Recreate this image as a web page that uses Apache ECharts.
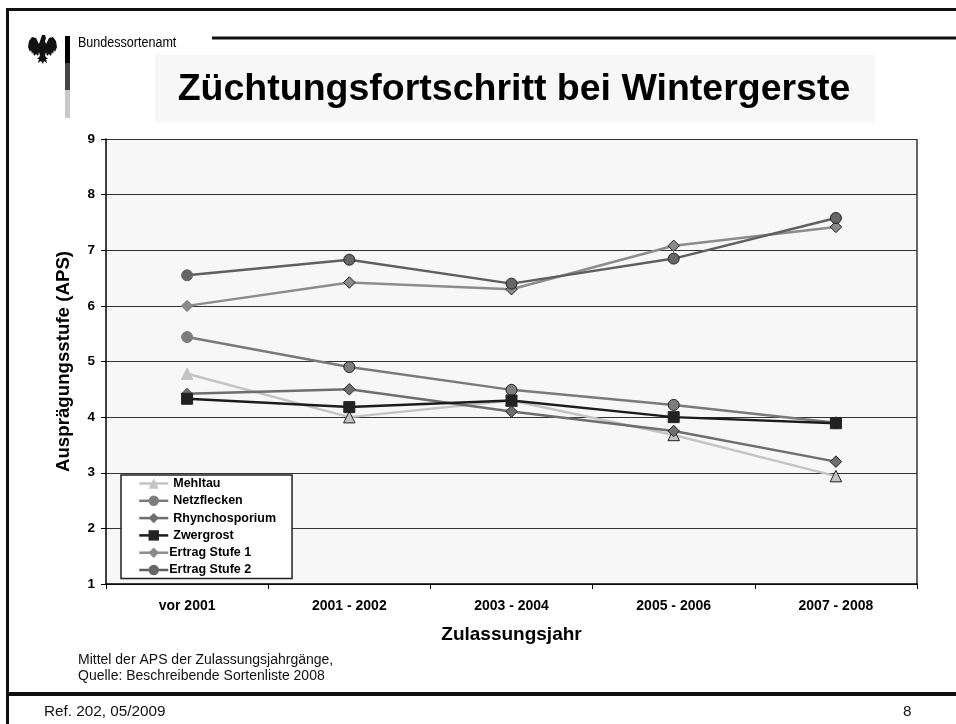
<!DOCTYPE html>
<html><head><meta charset="utf-8">
<style>html,body{margin:0;padding:0;background:#fff}#c{width:956px;height:724px}</style>
<script src="https://cdn.jsdelivr.net/npm/echarts@6/dist/echarts.min.js"></script>
</head><body><div id="c"></div>
<script>
const categories = ['vor 2001','2001 - 2002','2003 - 2004','2005 - 2006','2007 - 2008'];
const mehltau = [4.78,4.0,4.3,3.68,2.94];
const netzflecken = [5.44,4.9,4.49,4.22,3.9];
const rhynchosporium = [4.42,4.5,4.1,3.75,3.2];
const zwergrost = [4.33,4.18,4.3,4.0,3.89];
const ertrag1 = [6.0,6.42,6.3,7.08,7.42];
const ertrag2 = [6.55,6.83,6.4,6.85,7.58];
const seriesNames = ['Mehltau','Netzflecken','Rhynchosporium','Zwergrost','Ertrag Stufe 1','Ertrag Stufe 2'];
const FONT = '"Liberation Sans", Arial, sans-serif';
const eagleShape = [[42,35],[45,35],[46,38],[45,41],[46,44],[49,38],[53,37],[56,41],[57,47],[55,52],[54,50],[53,54],[52,52],[51,56],[49,54],[47,56],[46,52],[45,56],[48,59],[46,59],[47,63],[44,61],[43,64],[41,61],[38,63],[39,59],[37,59],[40,56],[39,52],[38,56],[36,54],[34,56],[33,52],[32,54],[31,50],[30,52],[28,47],[29,41],[32,37],[36,38],[39,44],[40,41],[41,38]];
function mk(name,data,symbol,size,color,line,width){
  return {name,type:'line',
    data:data.map((v,i)=>i===0?{value:v,itemStyle:{borderColor:color}}:v),
    symbol,symbolSize:size,showSymbol:true,
    lineStyle:{color:line,width:width},
    itemStyle:{color:color,borderColor:'#222',borderWidth:1},
    emphasis:{disabled:true},animation:false,z:3};
}
const line=(x1,y1,x2,y2,w,c)=>({type:'line',shape:{x1,y1,x2,y2},style:{stroke:c||'#111',lineWidth:w},silent:true});
const txt=(x,y,t,f,extra)=>({type:'text',x,y,style:Object.assign({text:t,font:f,fill:'#000',textVerticalAlign:'middle'},extra||{}),silent:true});
const legendText={fontFamily:FONT,fontWeight:'bold',fontSize:12.5,lineHeight:13,color:'#000'};
const chart=echarts.init(document.getElementById('c'),null,{renderer:'canvas'});
chart.setOption({
  animation:false,
  backgroundColor:'#fff',
  grid:{left:106,top:139,width:811,height:445,show:true,backgroundColor:'#f7f7f7',borderWidth:0},
  legend:{orient:'vertical',left:121,top:475,itemWidth:29,itemHeight:13,itemGap:4.3,
    padding:[2,16,2,17],backgroundColor:'#fff',borderColor:'#222',borderWidth:1.5,
    textStyle:legendText,
    lineStyle:{width:2.5},
    data:seriesNames.map((n,i)=>({name:n,itemStyle:{borderWidth:0},
      textStyle:i>=4?Object.assign({},legendText,{padding:[0,0,0,-4]}):legendText})),
    selectedMode:false},
  xAxis:{type:'category',data:categories,boundaryGap:true,
    axisLine:{lineStyle:{color:'#000',width:1.5}},
    axisTick:{show:true,alignWithLabel:false,length:5,lineStyle:{color:'#000'}},
    axisLabel:{fontFamily:FONT,fontWeight:'bold',fontSize:14,color:'#000',margin:15},
    name:'Zulassungsjahr',nameLocation:'middle',nameGap:41,
    nameTextStyle:{fontFamily:FONT,fontWeight:'bold',fontSize:19,color:'#000'}},
  yAxis:{type:'value',min:1,max:9,interval:1,
    axisLine:{show:true,lineStyle:{color:'#000',width:1.5}},
    axisTick:{show:true,length:5,lineStyle:{color:'#000'}},
    axisLabel:{fontFamily:FONT,fontWeight:'bold',fontSize:13.5,color:'#000',margin:11},
    splitLine:{show:true,lineStyle:{color:'#333',width:1.2}},
    name:'Ausprägungsstufe (APS)',nameLocation:'middle',nameGap:33,
    nameTextStyle:{fontFamily:FONT,fontWeight:'bold',fontSize:18.7,color:'#000'}},
  series:[
    mk('Mehltau',mehltau,'triangle',11.5,'#c4c4c4','#c4c4c4',2.5),
    mk('Netzflecken',netzflecken,'circle',11,'#7d7d7d','#7a7a7a',2.5),
    mk('Rhynchosporium',rhynchosporium,'diamond',11.5,'#6e6e6e','#6e6e6e',2.5),
    mk('Zwergrost',zwergrost,'rect',11,'#222','#1c1c1c',2.5),
    mk('Ertrag Stufe 1',ertrag1,'diamond',11.5,'#8a8a8a','#8c8c8c',2.5),
    mk('Ertrag Stufe 2',ertrag2,'circle',11,'#666','#5f5f5f',2.5)
  ],
  graphic:[
    line(6,9.5,956,9.5,3),line(7.5,9,7.5,724,3),line(7,694,956,694,4),
    line(212,38,956,38,3),
    {type:'rect',shape:{x:155,y:55,width:720,height:67},style:{fill:'#f7f7f7'},silent:true,z:-1},
    txt(514,90,'Züchtungsfortschritt bei Wintergerste','bold 37.5px '+FONT,{textAlign:'center'}),
    {type:'text',x:78,y:43,scaleX:0.82,style:{text:'Bundessortenamt',font:'15.3px '+FONT,fill:'#000',textVerticalAlign:'middle'},silent:true},
    {type:'rect',shape:{x:65,y:36,width:5,height:27},style:{fill:'#000'},silent:true},
    {type:'rect',shape:{x:65,y:63,width:5,height:27},style:{fill:'#444'},silent:true},
    {type:'rect',shape:{x:65,y:90,width:5,height:28},style:{fill:'#c8c8c8'},silent:true},
    {type:'polygon',shape:{points:eagleShape},style:{fill:'#111'},silent:true},
    line(917,139,917,584,2,'#666'),
    line(106,139.5,917,139.5,1,'#000'),
    txt(78,660,'Mittel der APS der Zulassungsjahrgänge,','14px '+FONT,{fill:'#111'}),
    txt(78,676,'Quelle: Beschreibende Sortenliste 2008','14px '+FONT,{fill:'#111'}),
    txt(44,712,'Ref. 202, 05/2009','15.3px '+FONT,{fill:'#111'}),
    txt(903,712,'8','15.3px '+FONT,{fill:'#111'})
  ]
});
</script></body></html>
